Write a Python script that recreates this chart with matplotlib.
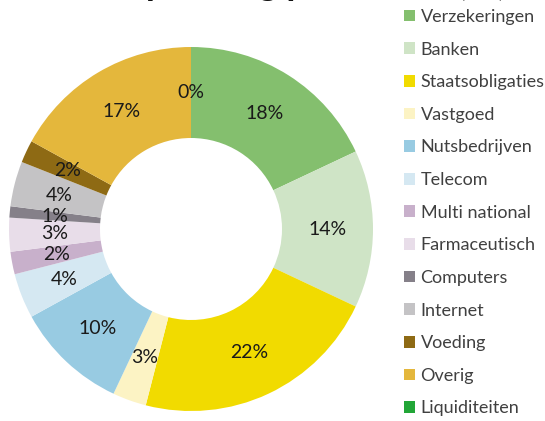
import matplotlib
matplotlib.use("Agg")
import matplotlib.pyplot as plt
from matplotlib.patches import Patch

# sectors and their share (%)
sectors = ['Verzekeringen', 'Banken', 'Staatsobligaties', 'Vastgoed', 'Nutsbedrijven',
           'Telecom', 'Multi national', 'Farmaceutisch', 'Computers', 'Internet',
           'Voeding', 'Overig', 'Liquiditeiten']
shares = [18, 14, 22, 3, 10, 4, 2, 3, 1, 4, 2, 17, 0]
colors = ['#84bf6e', '#cfe4c6', '#f1db00', '#fcf3c4', '#98cbe2', '#d5e8f2', '#c8b0cb',
          '#e8dde9', '#858089', '#c4c3c5', '#8e6a14', '#e4b73c', '#22a637']

plt.rcParams['font.family'] = ['Lato', 'DejaVu Sans']

fig = plt.figure(figsize=(5.45, 4.21), dpi=100)
ax = fig.add_axes([9 / 545, 10 / 421, 364 / 545, 364 / 421])

wedges, texts, autotexts = ax.pie(
    shares, colors=colors, startangle=90, counterclock=False, radius=1,
    wedgeprops=dict(width=0.5, linewidth=0),
    autopct=lambda p: f'{p:.0f}%', pctdistance=0.75,
    textprops=dict(fontsize=14, color='#1a1a1a'))
ax.set_xlim(-1, 1)
ax.set_ylim(-1, 1)
ax.set_aspect('equal')
ax.axis('off')

# title sits above the visible area in the original, only descenders show
fig.text(0.58, 1 + 5 / 421, 'Spreiding per sector (%)', fontsize=26, fontweight='bold',
         ha='center', va='baseline', color='#111111')

handles = [Patch(facecolor=c, edgecolor='none') for c in colors]
leg = fig.legend(handles, sectors, loc='upper left', bbox_to_anchor=(404 / 545, 1 - 9 / 421),
                 frameon=False, fontsize=13, labelspacing=0.92,
                 handlelength=0.62, handleheight=0.62, handletextpad=0.3,
                 borderaxespad=0, borderpad=0)
for t in leg.get_texts():
    t.set_color('#404040')

fig.savefig('out.png', dpi=100)
